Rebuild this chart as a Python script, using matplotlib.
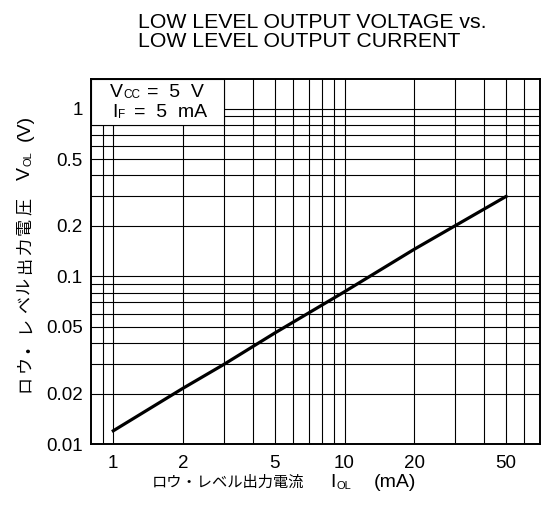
import numpy as np
import matplotlib.pyplot as plt
from matplotlib.patches import Rectangle

# data
i_ol = [1, 2, 3, 5, 10, 20, 50]
v_ol = [0.012, 0.0215, 0.0298, 0.046, 0.081, 0.145, 0.30]

x_ticks = [1, 2, 5, 10, 20, 50]
x_tick_labels = ['1', '2', '5', '10', '20', '50']
y_ticks = [0.01, 0.02, 0.05, 0.1, 0.2, 0.5, 1]
y_tick_labels = ['0.01', '0.02', '0.05', '0.1', '0.2', '0.5', '1']
x_grid = [0.9, 1, 2, 3, 4, 5, 6, 7, 8, 9, 10, 20, 30, 40, 50, 60]
y_grid = [0.02, 0.03, 0.04, 0.05, 0.06, 0.07, 0.08, 0.09,
          0.1, 0.2, 0.3, 0.4, 0.5, 0.6, 0.7, 0.8, 0.9, 1]

LAT = 'Liberation Sans'
JP = ['Noto Sans CJK JP', 'DejaVu Sans']

fig = plt.figure(figsize=(5.41, 5.11), dpi=100)
ax = fig.add_axes([0.168, 0.131, 0.830, 0.714])

ax.set_xscale('log'); ax.set_yscale('log')
ax.set_xlim(0.8, 70); ax.set_ylim(0.01, 1.5)
ax.set_xticks(x_grid, minor=True); ax.set_yticks(y_grid, minor=True)
ax.set_xticks(x_ticks, x_tick_labels); ax.set_yticks(y_ticks, y_tick_labels)
ax.xaxis.set_minor_formatter(plt.NullFormatter())
ax.yaxis.set_minor_formatter(plt.NullFormatter())
ax.tick_params(which='both', length=0, labelsize=13.5)
ax.tick_params(axis='x', pad=8); ax.tick_params(axis='y', pad=6)
for lab in ax.get_xticklabels() + ax.get_yticklabels():
    lab.set_family(LAT)
ax.grid(which='both', color='black', lw=0.8)
for sp in ax.spines.values():
    sp.set_linewidth(1.4)

ax.plot(i_ol, v_ol, color='black', lw=2.3, zorder=3)

# white condition box in the upper left corner
ax.add_patch(Rectangle((0.8, 0.8), 3 - 0.8, 1.5 - 0.8, facecolor='white',
                       edgecolor='black', lw=0.8, zorder=2.5))


def chain(parts, xy, coords, rot=0):
    # put text pieces one after another (for small subscripts on the baseline)
    prev = None
    for s, size, fam, gap in parts:
        if rot == 0:
            kw = dict(ha='left', va='bottom')
            nxt, off = (1, 0), (gap, 0)
        else:
            kw = dict(ha='right', va='bottom')
            nxt, off = (1, 1), (0, gap)
        if prev is None:
            t = ax.annotate(s, xy=xy, xycoords=coords, fontsize=size, family=fam,
                            rotation=rot, annotation_clip=False, zorder=4, **kw)
        else:
            t = ax.annotate(s, xy=nxt, xycoords=prev, xytext=off,
                            textcoords='offset points', fontsize=size, family=fam,
                            rotation=rot, annotation_clip=False, zorder=4, **kw)
        prev = t


chain([('V', 14, LAT, 0), ('CC', 8.5, LAT, 0.5), ('=  5  V', 14, LAT, 5)],
      (0.042, 0.941), 'axes fraction')
chain([('I', 14, LAT, 0), ('F', 8.5, LAT, 0.5), ('=  5  mA', 14, LAT, 6)],
      (0.047, 0.886), 'axes fraction')

fig.text(0.255, 0.900, 'LOW LEVEL OUTPUT VOLTAGE vs.\nLOW LEVEL OUTPUT CURRENT',
         fontsize=15.3, family=LAT, ha='left', va='bottom', linespacing=0.98)

# x label
chain([('ロウ・レベル出力電流', 11, JP, 0), ('I', 14, LAT, 19), ('OL', 8, LAT, 0.5),
       ('(mA)', 14, LAT, 16)],
      (0.280, 0.040), 'figure fraction')

# y label, wide letter spacing
ylab = [(c, 12.3, JP, 1.8) for c in 'ロウ・レベル出力電圧']
ylab[0] = ('ロ', 12.3, JP, 0)
ylab += [('V', 14, LAT, 13), ('OL', 8, LAT, 0.5), ('(V)', 14, LAT, 8)]
chain(ylab, (0.062, 0.233), 'figure fraction', rot=90)

fig.savefig('out.png', dpi=100)
